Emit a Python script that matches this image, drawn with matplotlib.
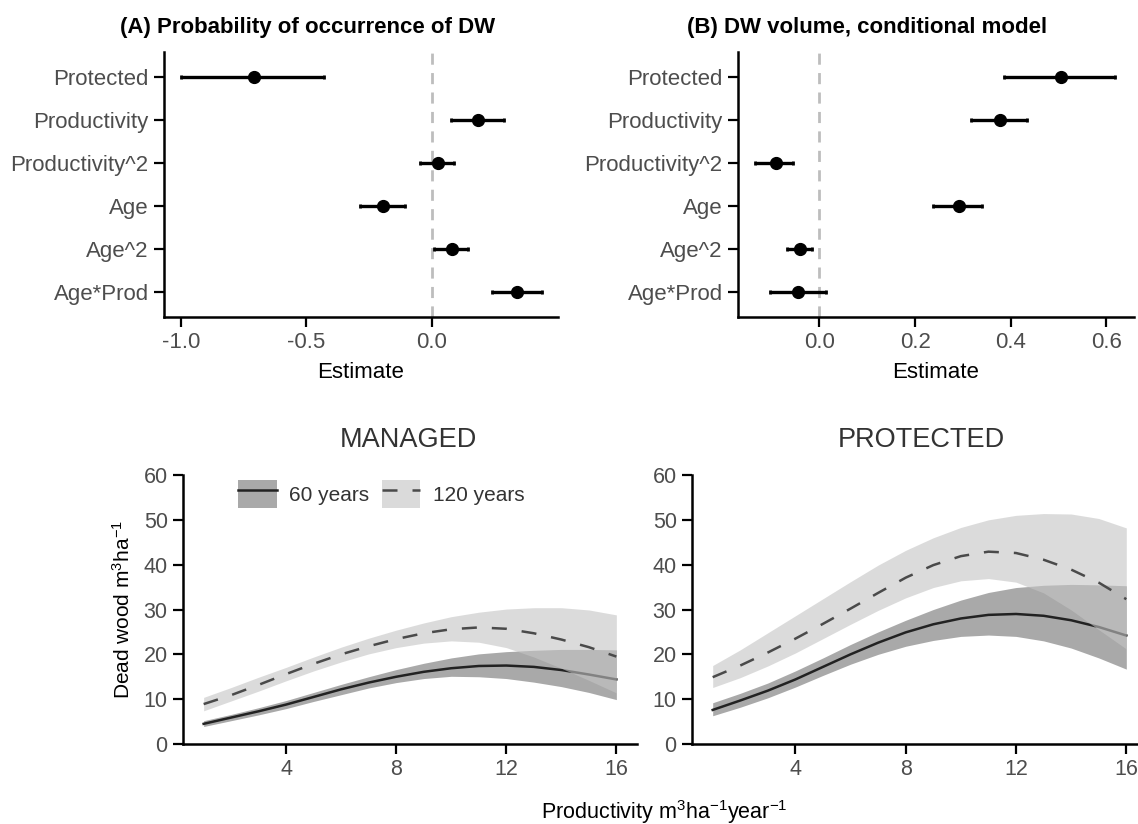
import numpy as np
import matplotlib
matplotlib.use('Agg')
import matplotlib.pyplot as plt
from matplotlib.patches import Patch
from matplotlib.lines import Line2D
from matplotlib.legend_handler import HandlerTuple

plt.rcParams['font.family'] = ['Liberation Sans', 'DejaVu Sans']
plt.rcParams['mathtext.fontset'] = 'custom'
plt.rcParams['mathtext.rm'] = 'Liberation Sans'
plt.rcParams['mathtext.it'] = 'Liberation Sans:italic'
plt.rcParams['mathtext.bf'] = 'Liberation Sans:bold'

# coefficient panels
terms = ['Protected', 'Productivity', 'Productivity^2', 'Age', 'Age^2', 'Age*Prod']

occ_est = [-0.708, 0.186, 0.026, -0.192, 0.081, 0.341]
occ_lo = [-1.000, 0.076, -0.044, -0.284, 0.010, 0.240]
occ_hi = [-0.430, 0.288, 0.091, -0.105, 0.145, 0.440]

vol_est = [0.505, 0.378, -0.091, 0.292, -0.041, -0.044]
vol_lo = [0.386, 0.317, -0.135, 0.237, -0.069, -0.103]
vol_hi = [0.619, 0.435, -0.056, 0.339, -0.016, 0.014]

# predicted dead wood curves
prod = [1, 2, 3, 4, 5, 6, 7, 8, 9, 10, 11, 12, 13, 14, 15, 16]

man_60 = [4.5, 5.9, 7.3, 8.8, 10.5, 12.2, 13.7, 15.0, 16.1, 16.9, 17.4, 17.5, 17.2, 16.5, 15.5, 14.4]
man_60_lo = [3.9, 5.2, 6.5, 7.9, 9.5, 11.0, 12.5, 13.7, 14.6, 15.1, 15.0, 14.6, 13.8, 12.8, 11.5, 9.9]
man_60_hi = [5.2, 6.6, 8.1, 9.7, 11.5, 13.3, 15.0, 16.6, 18.0, 19.2, 20.1, 20.6, 20.9, 21.1, 21.1, 21.0]
man_120 = [8.9, 10.9, 13.2, 15.6, 17.9, 20.0, 21.8, 23.4, 24.7, 25.6, 26.0, 25.7, 24.7, 23.3, 21.6, 19.5]
man_120_lo = [7.4, 9.6, 11.8, 14.1, 16.3, 18.3, 20.1, 21.5, 22.5, 23.0, 22.7, 21.5, 19.4, 16.9, 14.2, 11.4]
man_120_hi = [10.4, 12.6, 14.9, 17.1, 19.4, 21.6, 23.6, 25.4, 27.0, 28.4, 29.4, 30.1, 30.4, 30.4, 29.9, 28.8]

pro_60 = [7.6, 9.7, 11.9, 14.4, 17.2, 20.0, 22.6, 24.9, 26.7, 28.0, 28.8, 29.0, 28.6, 27.6, 26.1, 24.2]
pro_60_lo = [6.3, 8.2, 10.3, 12.7, 15.3, 17.8, 20.0, 21.8, 23.1, 24.0, 24.3, 24.0, 23.0, 21.4, 19.2, 16.7]
pro_60_hi = [9.2, 11.3, 13.6, 16.3, 19.2, 22.2, 25.0, 27.6, 30.0, 32.1, 33.8, 34.9, 35.4, 35.6, 35.5, 35.3]
pro_120 = [14.9, 17.5, 20.4, 23.5, 26.8, 30.2, 33.7, 37.1, 39.9, 41.9, 42.9, 42.6, 41.1, 38.9, 36.0, 32.3]
pro_120_lo = [12.6, 14.8, 17.4, 20.3, 23.5, 26.7, 29.8, 32.6, 34.9, 36.4, 36.9, 36.1, 33.7, 29.9, 25.5, 21.2]
pro_120_hi = [17.5, 21.0, 24.8, 28.6, 32.4, 36.2, 39.9, 43.2, 46.0, 48.3, 50.0, 51.0, 51.4, 51.3, 50.3, 48.2]

W, H = 1138, 824
fig = plt.figure(figsize=(W / 100, H / 100), dpi=100)

def px_axes(l, t, r, b):
    return fig.add_axes([l / W, 1 - b / H, (r - l) / W, (b - t) / H])

tick_col = '#4d4d4d'
dark_fill = '#a9a9a9'
light_fill = '#c4c4c4'

def style(ax):
    for s in ['top', 'right']:
        ax.spines[s].set_visible(False)
    for s in ['left', 'bottom']:
        ax.spines[s].set_linewidth(1.8)
    ax.tick_params(length=7.5, width=1.6, color='black', labelcolor=tick_col,
                   labelsize=16, pad=3.5)

def coef_panel(ax, est, lo, hi, xlim, xticks, xticklabels):
    ypos = np.arange(1, len(terms) + 1)
    est = np.array(est)
    err = [est - np.array(lo), np.array(hi) - est]
    ax.axvline(0, color='#bdbdbd', lw=2, dashes=(4, 3), zorder=1)
    ax.errorbar(est, ypos, xerr=err, fmt='o', color='black', ms=8.5,
                elinewidth=2.4, capsize=1.2, capthick=2, zorder=3)
    ax.set_yticks(ypos)
    ax.set_yticklabels(terms)
    ax.set_ylim(6.58, 0.42)
    ax.set_xlim(*xlim)
    ax.set_xticks(xticks)
    ax.set_xticklabels(xticklabels)
    style(ax)

axA = px_axes(164, 52, 558, 317)
coef_panel(axA, occ_est, occ_lo, occ_hi, (-1.068, 0.505),
           [-1.0, -0.5, 0.0], ['-1.0', '-0.5', '0.0'])
axB = px_axes(738, 52, 1134, 317)
coef_panel(axB, vol_est, vol_lo, vol_hi, (-0.1705, 0.658),
           [0.0, 0.2, 0.4, 0.6], ['0.0', '0.2', '0.4', '0.6'])

fig.text(308 / W, 1 - 28 / H, '(A) Probability of occurrence of DW', ha='center',
         va='center', fontsize=16, fontweight='bold')
fig.text(867 / W, 1 - 28 / H, '(B) DW volume, conditional model', ha='center',
         va='center', fontsize=16, fontweight='bold')
fig.text(361 / W, 1 - 373 / H, 'Estimate', ha='center', va='center', fontsize=16)
fig.text(936 / W, 1 - 373 / H, 'Estimate', ha='center', va='center', fontsize=16)

def curve_panel(ax, y60, lo60, hi60, y120, lo120, hi120):
    ax.fill_between(prod, lo60, hi60, color=dark_fill, lw=0, zorder=1)
    ax.plot(prod, y60, color='#222222', lw=1.8, zorder=2)
    ax.fill_between(prod, lo120, hi120, color=light_fill, alpha=0.6, lw=0, zorder=3)
    ax.plot(prod, y120, color='#4a4a4a', lw=1.8, dashes=(6, 6), zorder=4)
    ax.set_xlim(0.25, 16.75)
    ax.set_ylim(0, 60)
    ax.set_xticks([4, 8, 12, 16])
    ax.set_yticks([0, 10, 20, 30, 40, 50, 60])
    style(ax)
    ax.tick_params(labelsize=15.5)

axM = px_axes(183, 475, 637, 744)
curve_panel(axM, man_60, man_60_lo, man_60_hi, man_120, man_120_lo, man_120_hi)
axP = px_axes(692, 475, 1147, 744)
curve_panel(axP, pro_60, pro_60_lo, pro_60_hi, pro_120, pro_120_lo, pro_120_hi)

fig.text(408 / W, 1 - 440 / H, 'MANAGED', ha='center', va='center',
         fontsize=19.5, color='#333333')
fig.text(921 / W, 1 - 440 / H, 'PROTECTED', ha='center', va='center',
         fontsize=19.5, color='#333333')
fig.text(123 / W, 1 - 610 / H, r'Dead wood m$^{3}$ha$^{-1}$', rotation=90,
         ha='center', va='center', fontsize=15)
fig.text(664 / W, 1 - 812 / H, r'Productivity m$^{3}$ha$^{-1}$year$^{-1}$',
         ha='center', va='center', fontsize=15.5)

h60 = (Patch(facecolor=dark_fill, edgecolor='none'),
       Line2D([], [], color='#222222', lw=1.8))
h120 = (Patch(facecolor='#dadada', edgecolor='none'),
        Line2D([], [], color='#4a4a4a', lw=1.8, dashes=(6, 6)))
axM.legend([h60, h120], ['60 years', '120 years'], ncol=2, frameon=False,
           loc='upper left', bbox_to_anchor=((238 - 183) / (637 - 183), (744 - 480) / (744 - 475)),
           borderaxespad=0, borderpad=0, fontsize=15, handlelength=1.85,
           handleheight=1.72, handletextpad=0.6, columnspacing=0.6,
           labelcolor='#333333', handler_map={tuple: HandlerTuple(ndivide=1)})

plt.savefig('out.png', dpi=100)
